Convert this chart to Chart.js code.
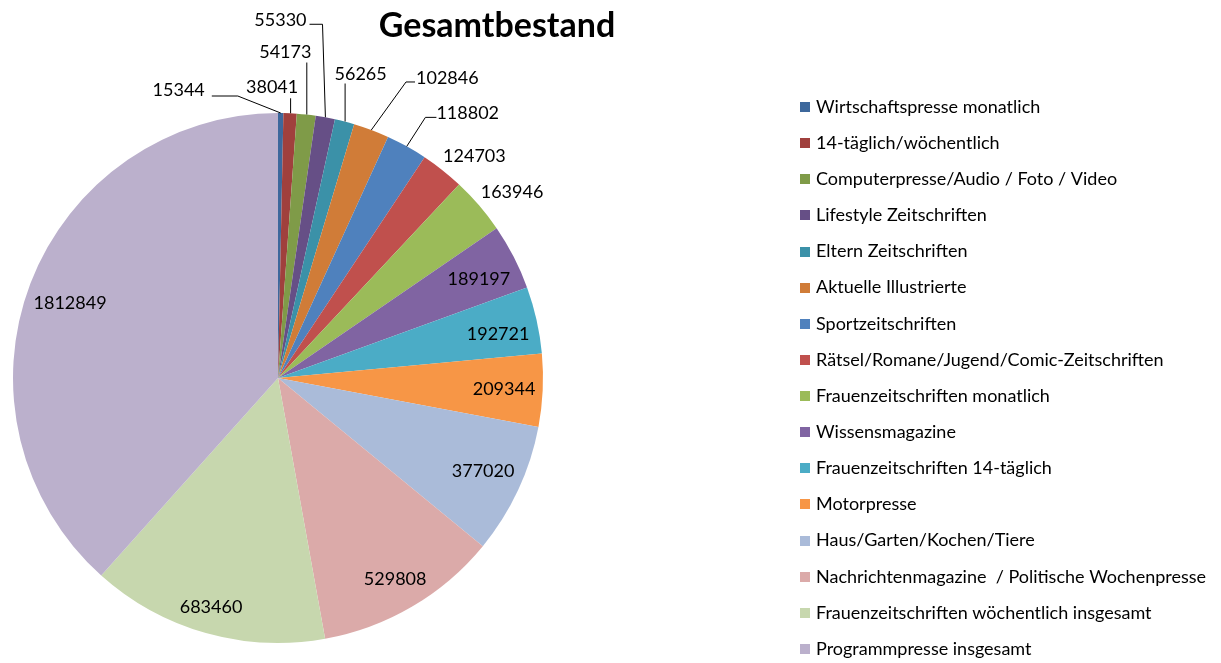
<!DOCTYPE html>
<html><head><meta charset="utf-8">
<script src="https://cdn.jsdelivr.net/npm/chart.js@4/dist/chart.umd.min.js"></script>
<style>html,body{margin:0;padding:0;background:#fff;}#wrap{position:relative;width:1221px;height:663px;}</style>
</head><body><div id="wrap"><canvas id="c" width="1221" height="663"></canvas></div>
<script>
const chartTitle = 'Gesamtbestand';
const categories = [
  'Wirtschaftspresse monatlich',
  '14-täglich/wöchentlich',
  'Computerpresse/Audio / Foto / Video',
  'Lifestyle Zeitschriften',
  'Eltern Zeitschriften',
  'Aktuelle Illustrierte',
  'Sportzeitschriften',
  'Rätsel/Romane/Jugend/Comic-Zeitschriften',
  'Frauenzeitschriften monatlich',
  'Wissensmagazine',
  'Frauenzeitschriften 14-täglich',
  'Motorpresse',
  'Haus/Garten/Kochen/Tiere',
  'Nachrichtenmagazine  / Politische Wochenpresse',
  'Frauenzeitschriften wöchentlich insgesamt',
  'Programmpresse insgesamt'
];
const values = [15344, 38041, 54173, 55330, 56265, 102846, 118802, 124703, 163946, 189197, 192721, 209344, 377020, 529808, 683460, 1812849];
const colors = ['#3D689C','#A0403D','#7F9B48','#664F86','#3B91A8','#D07C38','#4F81BD','#C0504D','#9BBB59','#8064A2','#4BACC6','#F79646','#AABBD9','#DBAAA9','#C7D7AE','#BBB0CC'];

// label placement (style/layout only): outside labels offset from slice edge, inside labels by radius fraction
const labelLayout = [
  {out:true, dx:-102, dy:-23, leader:'right', gap:7, oy:6, len:26},
  {out:true, dx:-18, dy:-26, leader:'down', oy:11},
  {out:true, dx:-21, dy:-62, leader:'down', oy:10},
  {out:true, dx:-45, dy:-97, leader:'right', gap:3, oy:4, len:13},
  {out:true, dx:16, dy:-47, leader:'down', oy:9},
  {out:true, dx:76, dy:-52, leader:'left', gap:1, oy:4, len:9},
  {out:true, dx:61, dy:-33, leader:'left', gap:0, oy:4, len:11},
  {out:true, dx:32, dy:-14, leader:'none'},
  {out:true, dx:33, dy:-13, leader:'none'},
  {out:false, f:0.845, da:1.0},
  {out:false, f:0.847, da:1.3},
  {out:false, f:0.854, da:0.1},
  {out:false, f:0.85, da:-0.6},
  {out:false, f:0.878, da:0.2},
  {out:false, f:0.90, da:0.5},
  {out:false, f:0.834, da:-1.1}
];

const FONT = 'Lato, "Open Sans", sans-serif';

const decorPlugin = {
  id: 'decor',
  afterDatasetsDraw(chart) {
    const ctx = chart.ctx;
    const meta = chart.getDatasetMeta(0);
    ctx.save();
    ctx.font = '18px ' + FONT;
    ctx.fillStyle = '#000';
    ctx.strokeStyle = '#000';
    ctx.lineWidth = 1;
    ctx.textAlign = 'center';
    ctx.textBaseline = 'middle';
    meta.data.forEach((arc, i) => {
      const p = arc.getProps(['x','y','startAngle','endAngle','outerRadius'], true);
      const mid = (p.startAngle + p.endAngle) / 2;
      const L = labelLayout[i];
      const txt = String(chart.data.datasets[0].data[i]);
      const w = ctx.measureText(txt).width;
      if (L.out) {
        const ax = p.x + Math.cos(mid) * p.outerRadius;
        const ay = p.y + Math.sin(mid) * p.outerRadius;
        const cx = ax + L.dx, cy = ay + L.dy;
        ctx.fillText(txt, cx, cy);
        ctx.beginPath();
        if (L.leader === 'right') {
          const x0 = cx + w / 2 + L.gap, y0 = cy + L.oy;
          ctx.moveTo(x0, y0); ctx.lineTo(x0 + L.len, y0); ctx.lineTo(ax, ay);
        } else if (L.leader === 'left') {
          const x0 = cx - w / 2 - L.gap, y0 = cy + L.oy;
          ctx.moveTo(x0, y0); ctx.lineTo(x0 - L.len, y0); ctx.lineTo(ax, ay);
        } else if (L.leader === 'down') {
          ctx.moveTo(ax + 0.5, cy + L.oy); ctx.lineTo(ax + 0.5, ay);
        }
        ctx.stroke();
      } else {
        const a = mid + L.da * Math.PI / 180;
        const r = p.outerRadius * L.f;
        ctx.fillText(txt, p.x + Math.cos(a) * r, p.y + Math.sin(a) * r);
      }
    });
    // title
    ctx.font = 'bold 34px ' + FONT;
    ctx.fillText(chartTitle, 497, 26);
    // legend
    ctx.font = '18px ' + FONT;
    ctx.textAlign = 'left';
    const bg = chart.data.datasets[0].backgroundColor;
    chart.data.labels.forEach((lab, i) => {
      const y = 107 + i * 36.13;
      ctx.fillStyle = bg[i];
      ctx.fillRect(800, Math.round(y) - 5, 10, 10);
      ctx.fillStyle = '#000';
      ctx.fillText(lab, 816, y);
    });
    ctx.restore();
  }
};

new Chart(document.getElementById('c'), {
  type: 'pie',
  data: {
    labels: categories,
    datasets: [{ data: values, backgroundColor: colors, borderWidth: 0 }]
  },
  options: {
    responsive: false,
    devicePixelRatio: 1,
    animation: false,
    layout: { padding: { left: 13, top: 113, right: 678, bottom: 20 } },
    plugins: { legend: { display: false }, title: { display: false }, tooltip: { enabled: false } }
  },
  plugins: [decorPlugin]
});
</script>
</body></html>
